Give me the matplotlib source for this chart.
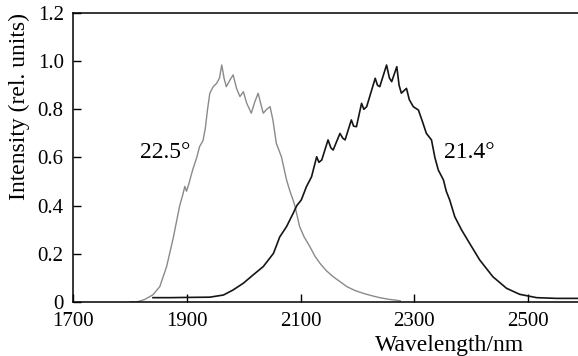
import matplotlib
matplotlib.use("Agg")
import matplotlib.pyplot as plt

# spectrum at 22.5 deg (grey)
wl_225 = [1800, 1811, 1825, 1840, 1852, 1864, 1876, 1887, 1893, 1896, 1899, 1903,
          1910, 1917, 1922, 1928, 1932, 1936, 1940, 1946, 1952, 1957, 1961, 1965,
          1969, 1975, 1981, 1987, 1993, 1999, 2005, 2013, 2019, 2025, 2030, 2034,
          2040, 2046, 2051, 2057, 2066, 2075, 2081, 2087, 2090, 2098, 2106, 2116,
          2125, 2134, 2145, 2157, 2170, 2181, 2195, 2210, 2225, 2239, 2255, 2266, 2275]
int_225 = [0.0, 0.0, 0.01, 0.03, 0.064, 0.147, 0.27, 0.40, 0.45, 0.48, 0.46, 0.49,
           0.55, 0.60, 0.645, 0.67, 0.72, 0.80, 0.867, 0.894, 0.908, 0.93, 0.984, 0.93,
           0.894, 0.92, 0.943, 0.887, 0.853, 0.873, 0.825, 0.784, 0.83, 0.867, 0.82, 0.784,
           0.80, 0.811, 0.756, 0.659, 0.603, 0.507, 0.46, 0.42, 0.396, 0.313, 0.27, 0.23,
           0.19, 0.16, 0.13, 0.105, 0.083, 0.064, 0.048, 0.036, 0.026, 0.018, 0.011, 0.008, 0.005]

# spectrum at 21.4 deg (black)
wl_214 = [1840, 1870, 1900, 1940, 1964, 1981, 1999, 2016, 2034, 2052, 2063, 2075,
          2087, 2093, 2101, 2110, 2119, 2128, 2132, 2137, 2148, 2153, 2157, 2169,
          2174, 2178, 2189, 2193, 2198, 2207, 2211, 2216, 2231, 2235, 2239, 2251,
          2256, 2260, 2269, 2273, 2277, 2286, 2291, 2298, 2307, 2314, 2321, 2330,
          2336, 2342, 2351, 2356, 2362, 2371, 2383, 2397, 2415, 2438, 2462, 2485,
          2515, 2550, 2600]
int_214 = [0.018, 0.018, 0.019, 0.02, 0.029, 0.05, 0.078, 0.112, 0.147, 0.202, 0.27, 0.313,
           0.37, 0.40, 0.424, 0.479, 0.52, 0.603, 0.58, 0.59, 0.673, 0.64, 0.631, 0.70,
           0.68, 0.673, 0.756, 0.73, 0.728, 0.825, 0.80, 0.811, 0.929, 0.90, 0.894, 0.984,
           0.93, 0.915, 0.977, 0.90, 0.867, 0.887, 0.84, 0.811, 0.797, 0.75, 0.70, 0.673,
           0.60, 0.548, 0.507, 0.46, 0.424, 0.354, 0.299, 0.244, 0.174, 0.105, 0.057, 0.032,
           0.018, 0.015, 0.015]

x_ticks = [1700, 1900, 2100, 2300, 2500]
y_ticks = [0, 0.2, 0.4, 0.6, 0.8, 1.0, 1.2]
y_tick_labels = ["0", "0.2", "0.4", "0.6", "0.8", "1.0", "1.2"]

plt.rcParams["font.family"] = ["Liberation Serif", "DejaVu Serif"]

fig = plt.figure(figsize=(5.78, 3.56), dpi=100)
ax = fig.add_axes([0.127, 0.1517, 0.885, 0.8118])

ax.plot(wl_225, int_225, color="#8a8a8a", lw=1.0)
ax.plot(wl_214, int_214, color="#151515", lw=1.2)

ax.text(1861, 0.619, "22.5°", fontsize=17, ha="center", va="center")
ax.text(2397, 0.619, "21.4°", fontsize=17, ha="center", va="center")

ax.set_xlim(1700, 2600)
ax.set_ylim(0, 1.2)
ax.set_xticks(x_ticks)
ax.set_yticks(y_ticks)
ax.set_yticklabels(y_tick_labels)
ax.tick_params(direction="in", length=6, width=1, labelsize=15, pad=7)
ax.spines["right"].set_visible(False)
for s in ["left", "bottom", "top"]:
    ax.spines[s].set_linewidth(1.1)

ax.set_ylabel("Intensity (rel. units)", fontsize=17)
ax.yaxis.set_label_coords(-0.084, 0.675)
ax.set_xlabel("Wavelength/nm", fontsize=17)
ax.xaxis.set_label_coords(0.736, -0.149)
ax.xaxis.label.set_va("center")

fig.savefig("out.png", dpi=100)
